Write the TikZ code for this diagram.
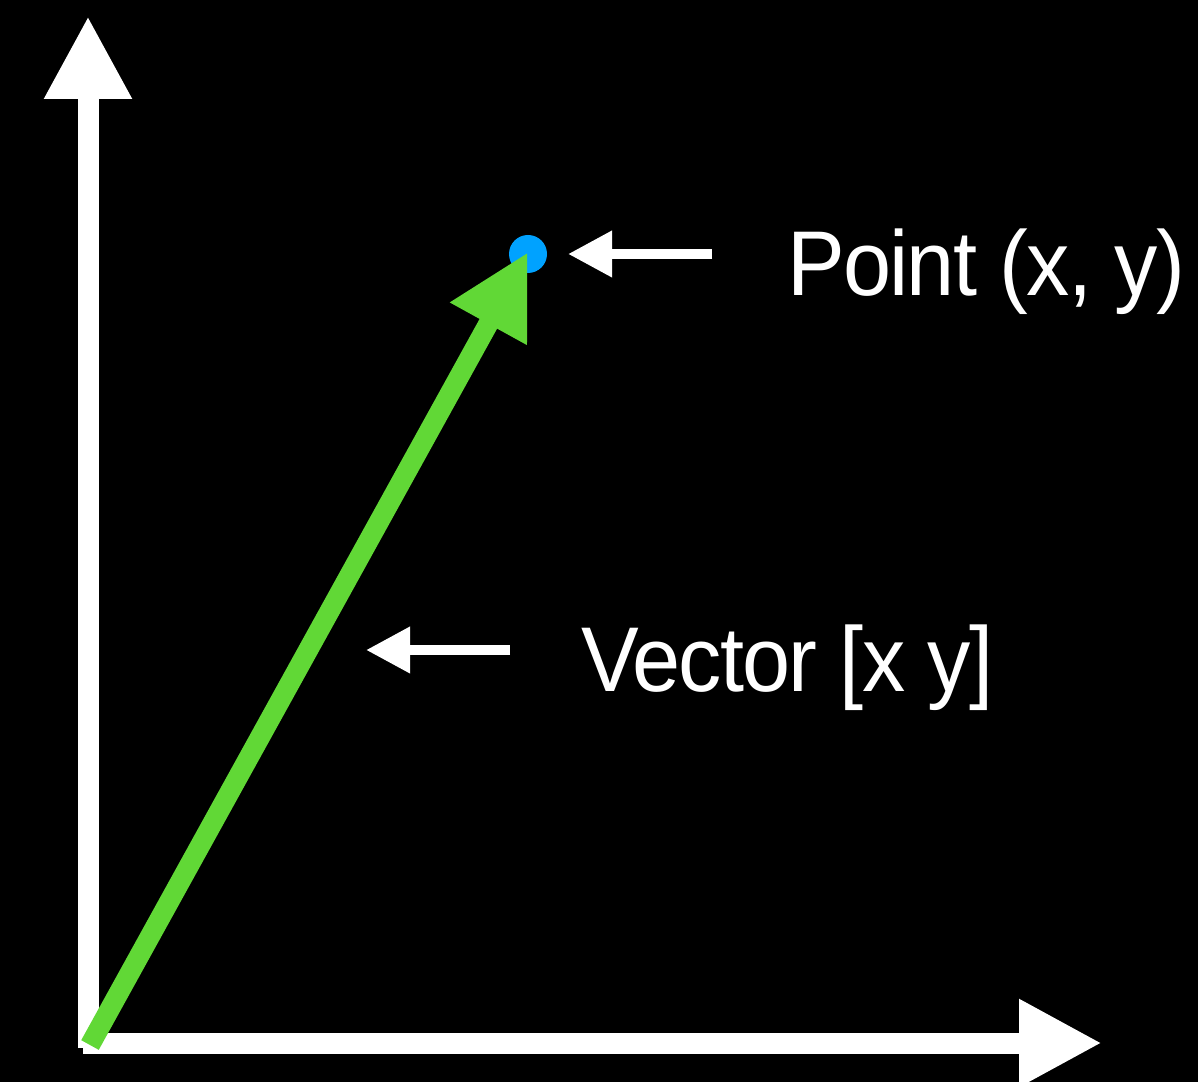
\documentclass[tikz,border=0pt]{standalone}
\usepackage{fontspec}
\setmainfont{Liberation Sans}
\newfontfamily\lblfont[LetterSpace=-2]{Liberation Sans}
\usepackage{tikz}
\usetikzlibrary{arrows.meta}
\definecolor{vecgreen}{RGB}{97,216,54}
\definecolor{ptblue}{RGB}{0,162,255}
\tikzset{
  ax/.style={white,line width=21pt,-{Triangle[length=83pt,width=82pt]}},
  vec/.style={vecgreen,line width=20pt,-{Triangle[length=82pt,width=82pt]}},
  ptr/.style={white,line width=10pt,-{Triangle[length=44pt,width=44pt]}},
  lbl/.style={white,inner sep=0pt,anchor=base west,xscale=0.94,transform shape,
              font=\lblfont\fontsize{92}{110}\selectfont}
}

\begin{document}
\begin{tikzpicture}[x=1pt,y=1pt]
  \fill[black] (0,0) rectangle (1198,1082);
  \useasboundingbox (0,0) rectangle (1198,1082);

  % ---- axes ----
  \coordinate (ybot) at (88,34);
  \coordinate (ytop) at (88,1066);
  \coordinate (xleft) at (83,39);
  \coordinate (xright) at (1102,39);
  \draw[ax] (ybot) -- (ytop);
  \draw[ax] (xleft) -- (xright);

  % ---- point and vector ----
  \coordinate (O) at (90,37);
  \coordinate (P) at (528,828);
  \fill[ptblue] (P) circle[radius=19pt];
  \draw[vec] (O) -- (528,830);

  % ---- labels ----
  \node[lbl] (ptlbl) at (787,786) {Point (x, y)};
  \node[lbl] (veclbl) at (581,390) {Vector [x y]};
  \coordinate (pa) at (712,828);
  \coordinate (pb) at (568,828);
  \coordinate (va) at (510,432);
  \coordinate (vb) at (366,432);
  \draw[ptr] (pa) -- (pb);
  \draw[ptr] (va) -- (vb);
\end{tikzpicture}
\end{document}
